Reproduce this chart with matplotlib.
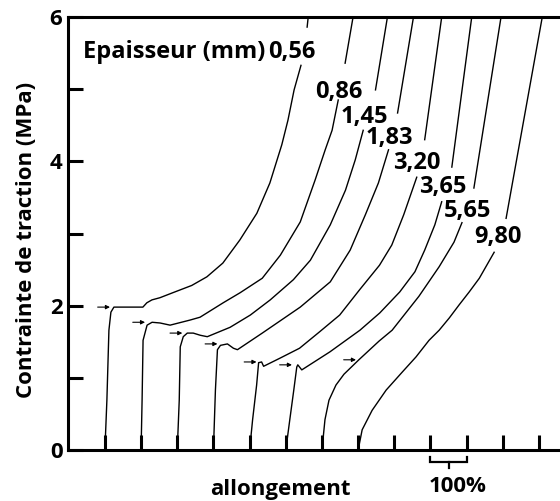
import numpy as np
import matplotlib
matplotlib.use("Agg")
import matplotlib.pyplot as plt

nan = np.nan

# Thickness of each sample (mm) and the elongation (%) at which each curve starts
thickness_labels = ["0,56", "0,86", "1,45", "1,83", "3,20", "3,65", "5,65", "9,80"]
origin_offsets = [100, 200, 300, 400, 500, 600, 700, 800]

# Curves: elongation relative to own origin (%) and tensile stress (MPa); nan = gap under label
strain_056 = [0, 5.5, 11.1, 16.6, 24.9, 105, 116, 130, 152, 188, 240, 282, 326, 373, 420, 456, 489, 506, 523, 542, nan, 559, 562, 564]
stress_056 = [0, 0.69, 1.66, 1.91, 1.98, 1.98, 2.04, 2.08, 2.11, 2.18, 2.28, 2.40, 2.59, 2.91, 3.28, 3.70, 4.23, 4.57, 4.99, 5.33, nan, 5.86, 6.0, 6.10]

strain_086 = [0, 2.8, 5.5, 16.6, 30.4, 52.5, 80.2, 135, 163, 227, 274, 335, 385, 440, 481, 509, 528, 545, nan, 564, 586, 589]
stress_086 = [0, 0.69, 1.52, 1.73, 1.77, 1.76, 1.73, 1.80, 1.84, 2.04, 2.18, 2.38, 2.70, 3.16, 3.74, 4.16, 4.43, 4.85, nan, 5.36, 6.0, 6.10]

strain_145 = [0, 5.5, 8.3, 16.6, 27.7, 44.2, 63.6, 83, 146, 202, 257, 321, 368, 423, 465, 492, 514, nan, 548, 581, 584]
stress_145 = [0, 0.69, 1.43, 1.57, 1.62, 1.62, 1.59, 1.57, 1.70, 1.87, 2.08, 2.36, 2.63, 3.12, 3.60, 4.02, 4.43, nan, 4.99, 6.0, 6.10]

strain_183 = [0, 5.5, 11.1, 19.4, 38.7, 55.3, 66.4, 135, 240, 323, 378, 420, 456, 484, nan, 509, 553, 556]
stress_183 = [0, 0.83, 1.39, 1.45, 1.47, 1.41, 1.39, 1.62, 1.98, 2.33, 2.77, 3.26, 3.70, 4.16, nan, 4.67, 6.0, 6.10]

strain_320 = [0, 8.3, 19.4, 24.9, 33.2, 38.7, 83, 138, 194, 249, 304, 359, 393, 426, 462, nan, 484, 531, 534]
stress_320 = [0, 0.42, 0.90, 1.21, 1.22, 1.16, 1.27, 1.41, 1.64, 1.87, 2.22, 2.56, 2.84, 3.26, 3.78, nan, 4.30, 6.0, 6.10]

strain_365 = [0, 11.1, 22.1, 30.4, 33.2, 44.2, 122, 205, 260, 315, 357, 384, 412, 431, nan, 459, 514, 517]
stress_365 = [0, 0.42, 0.83, 1.15, 1.18, 1.11, 1.36, 1.66, 1.90, 2.19, 2.47, 2.77, 3.12, 3.44, nan, 3.92, 6.0, 6.10]

strain_565 = [0, 8.3, 19.4, 38.7, 60.8, 102, 158, 194, 268, 324, 365, 387, nan, 420, 495, 498]
stress_565 = [0, 0.42, 0.69, 0.90, 1.05, 1.25, 1.51, 1.66, 2.13, 2.54, 2.88, 3.15, nan, 3.63, 6.0, 6.10]

strain_980 = [0, 11.1, 38.7, 77.4, 122, 160, 196, 224, 252, 279, 307, 335, 376, nan, 409, 509, 512]
stress_980 = [0, 0.28, 0.55, 0.83, 1.08, 1.29, 1.52, 1.66, 1.83, 2.01, 2.19, 2.38, 2.74, nan, 3.21, 6.0, 6.10]

# Yield points marked by small arrows (relative elongation %, stress MPa)
yield_strain = [14, 11, 14, 11, 19, 17, 94]
yield_stress = [1.98, 1.77, 1.62, 1.47, 1.22, 1.18, 1.25]

# Label positions (absolute elongation %, stress MPa)
label_x = [617, 747, 816, 885, 963, 1035, 1101, 1187]
label_y = [5.51, 4.96, 4.61, 4.32, 3.98, 3.64, 3.31, 2.95]

y_major = [0, 2, 4, 6]
y_minor = [1, 3, 5]
x_ticks = [100, 200, 300, 400, 500, 600, 700, 800, 900, 1000, 1100, 1200, 1300]
scale_bar = [1000, 1100]   # 100 % elongation

curves = [
    (strain_056, stress_056), (strain_086, stress_086), (strain_145, stress_145),
    (strain_183, stress_183), (strain_320, stress_320), (strain_365, stress_365),
    (strain_565, stress_565), (strain_980, stress_980),
]

FONT = ["Open Sans", "DejaVu Sans"]
plt.rcParams["font.family"] = FONT
FS = 16
FS_LAB = 17

fig = plt.figure(figsize=(5.6, 5.01), dpi=100)
ax = fig.add_axes([68 / 560, 51 / 501, 492 / 560, 433 / 501])

for (sx, sy), off in zip(curves, origin_offsets):
    ax.plot(np.array(sx, dtype=float) + off, sy, color="black", lw=1.0, solid_joinstyle="round")

for i, (ys, yv) in enumerate(zip(yield_strain, yield_stress)):
    tip = origin_offsets[i] + ys
    ax.annotate("", xy=(tip, yv), xytext=(tip - 34, yv),
                arrowprops=dict(arrowstyle="-|>", lw=0.8, color="black",
                                mutation_scale=6, shrinkA=0, shrinkB=0))

for lab, lx, ly in zip(thickness_labels, label_x, label_y):
    ax.text(lx, ly, lab, ha="center", va="center", fontsize=FS_LAB, fontweight="bold")
ax.text(label_x[0] - 74, label_y[0], "Epaisseur (mm)", ha="right", va="center",
        fontsize=FS_LAB, fontweight="bold")

ax.set_xlim(-2, 1358)
ax.set_ylim(0, 6)
ax.set_xticks(x_ticks)
ax.set_xticklabels([])
ax.set_yticks(y_major)
ax.set_yticklabels([str(v) for v in y_major])
ax.set_yticks(y_minor, minor=True)
ax.tick_params(axis="x", direction="in", length=11, width=2.2, color="black")
ax.tick_params(axis="y", which="both", direction="in", length=10.5, width=2.2,
               labelsize=FS, pad=4)
for lbl in ax.get_yticklabels():
    lbl.set_fontweight("bold")
for s in ["left", "bottom", "top"]:
    ax.spines[s].set_linewidth(2.2)
ax.spines["right"].set_visible(False)

# Scale bracket for 100 %
yb = -0.166
x0, x1 = scale_bar
ax.plot([x0, x0, x1, x1], [-0.097, yb, yb, -0.097], color="black", lw=1.6,
        clip_on=False, solid_joinstyle="miter")
ax.plot([(x0 + x1) / 2] * 2, [yb, -0.25], color="black", lw=1.6, clip_on=False)

fig.text(458 / 560, 1 - 487 / 501, "100%", ha="center", va="center", fontsize=FS, fontweight="bold")
fig.text(280 / 560, 1 - 489 / 501, "allongement", ha="center", va="center", fontsize=FS, fontweight="bold")
fig.text(27 / 560, 1 - 240 / 501, "Contrainte de traction (MPa)", rotation=90,
         ha="center", va="center", fontsize=FS, fontweight="bold")

fig.savefig("out.png", dpi=100)
